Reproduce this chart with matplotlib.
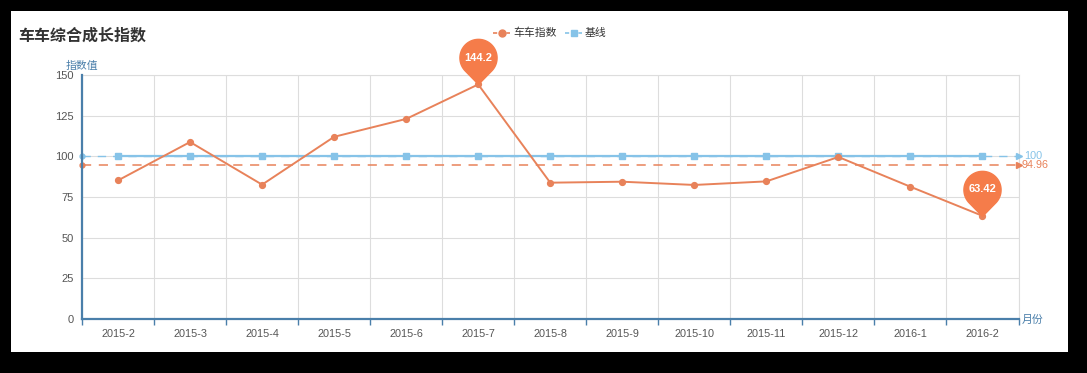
import numpy as np
import matplotlib
matplotlib.use("Agg")
import matplotlib.pyplot as plt
from matplotlib.patches import Rectangle
from matplotlib.path import Path
from matplotlib.lines import Line2D

plt.rcParams['font.family'] = ['Liberation Sans', 'Noto Sans CJK SC', 'DejaVu Sans']

# ---------------- data ----------------
months = ['2015-2', '2015-3', '2015-4', '2015-5', '2015-6', '2015-7', '2015-8',
          '2015-9', '2015-10', '2015-11', '2015-12', '2016-1', '2016-2']
index_values = [85.2, 108.8, 82.6, 112.0, 123.0, 144.2, 83.8,
                84.4, 82.4, 84.6, 99.6, 81.3, 63.42]
baseline_values = [100, 100, 100, 100, 100, 100, 100, 100, 100, 100, 100, 100, 100]
average_value = 94.96
baseline_mark = 100
y_ticks = [0, 25, 50, 75, 100, 125, 150]

title = '车车综合成长指数'
legend_names = ['车车指数', '基线']
y_name = '指数值'
x_name = '月份'

# ---------------- style ----------------
W, H = 1087, 373
ORANGE = '#E8825A'
PIN = '#F57C4A'
BLUE = '#86C3E8'
AXIS = '#4A7FAA'
GRID = '#DDDDDD'
TXT = '#555555'

def fx(px):
    return px / W

def fy(py):
    return 1 - py / H

fig = plt.figure(figsize=(W / 100, H / 100), dpi=100, facecolor='black')
fig.patches.append(Rectangle((fx(11), fy(352)), (1068 - 11) / W, (352 - 11) / H,
                             transform=fig.transFigure, facecolor='white',
                             edgecolor='none', zorder=-10))

ax = fig.add_axes([fx(82), fy(319), 936.5 / W, (319 - 75) / H])
ax.set_facecolor('white')
n = len(months)
x = np.arange(n)
ax.set_xlim(-0.5, n - 0.5)
ax.set_ylim(0, 150)

# grid
bounds = np.arange(-0.5, n, 1.0)
ax.set_xticks(bounds)
ax.set_xticklabels([])
ax.set_xticks(x, minor=True)
ax.set_xticklabels(months, minor=True)
ax.tick_params(axis='x', which='major', direction='out', length=4, width=1, color=AXIS)
ax.tick_params(axis='x', which='minor', length=0, pad=7, labelsize=7.8, labelcolor=TXT)
ax.set_yticks(y_ticks)
ax.tick_params(axis='y', length=0, pad=6, labelsize=8, labelcolor=TXT)
ax.grid(True, which='major', color=GRID, linewidth=0.8, zorder=0)
ax.set_axisbelow(True)

for s in ['top', 'right']:
    ax.spines[s].set_color(GRID)
    ax.spines[s].set_linewidth(0.8)
for s in ['left', 'bottom']:
    ax.spines[s].set_color(AXIS)
    ax.spines[s].set_linewidth(1.6)
    ax.spines[s].set_zorder(5)

# baseline series
ax.plot(x, baseline_values, color=BLUE, lw=1.6, marker='s', ms=4.2,
        mfc=BLUE, mec=BLUE, zorder=3)
# baseline markline
ax.plot([-0.5, n - 0.5], [baseline_mark, baseline_mark], color=BLUE, lw=1.0,
        ls=(0, (6, 5)), zorder=2.5, clip_on=False)
ax.plot([-0.5], [baseline_mark], marker='o', ms=3.5, color=BLUE, clip_on=False, zorder=4)
ax.plot([n - 0.5], [baseline_mark], marker='>', ms=4.8, color=BLUE, clip_on=False, zorder=4)
ax.annotate(f'{baseline_mark}', (n - 0.5, baseline_mark), xytext=(4, 0),
            textcoords='offset points', va='center', ha='left', fontsize=7.8,
            color=BLUE, annotation_clip=False)

# average markline
ax.plot([-0.5, n - 0.5], [average_value, average_value], color=ORANGE, lw=1.1,
        ls=(0, (6, 5)), zorder=2.6, clip_on=False)
ax.plot([-0.5], [average_value], marker='o', ms=3.5, color=ORANGE, clip_on=False, zorder=4)
ax.plot([n - 0.5], [average_value], marker='>', ms=4.8, color=ORANGE, clip_on=False, zorder=4)
ax.annotate(f'{average_value}', (n - 0.5, average_value), xytext=(2.5, 0),
            textcoords='offset points', va='center', ha='left', fontsize=7.8,
            color=ORANGE, annotation_clip=False)

# index series
ax.plot(x, index_values, color=ORANGE, lw=1.4, marker='o', ms=4.2,
        mfc=ORANGE, mec=ORANGE, zorder=4)

# pin markers (max / min)
c = 1.43
phi = np.arccos(1 / c)
th = np.linspace(-np.pi / 2 + phi, 3 * np.pi / 2 - phi, 80)
verts = np.column_stack([np.cos(th), c + np.sin(th)])
verts = np.vstack([[0, 0], verts, [0, 0]])
codes = [Path.MOVETO] + [Path.LINETO] * (len(verts) - 2) + [Path.CLOSEPOLY]
pin = Path(verts, codes)
i_max = int(np.argmax(index_values))
i_min = int(np.argmin(index_values))
for i in [i_max, i_min]:
    ax.plot([x[i]], [index_values[i]], marker=pin, ms=65, color=PIN, mec=PIN,
            zorder=6, clip_on=False, ls='none')
    ax.annotate(f'{index_values[i]}', (x[i], index_values[i]), xytext=(0, 19),
                textcoords='offset points', ha='center', va='center', fontsize=8,
                color='white', fontweight='bold', zorder=7, annotation_clip=False)

# texts
fig.text(fx(18), fy(36), title, fontsize=11.5, fontweight='bold', color='#333333',
         va='center', ha='left', family=['Noto Sans CJK SC', 'DejaVu Sans'])
fig.text(fx(66), fy(66), y_name, fontsize=7.8, color=AXIS, va='center', ha='left',
         family=['Noto Sans CJK SC', 'DejaVu Sans'])
fig.text(fx(1022), fy(320), x_name, fontsize=7.8, color=AXIS, va='center', ha='left',
         family=['Noto Sans CJK SC', 'DejaVu Sans'])

# legend
ly = fy(33)
fig.add_artist(Line2D([fx(493), fx(510)], [ly, ly], color=ORANGE, lw=1.2,
                      ls=(0, (2.5, 1.5)), transform=fig.transFigure))
fig.add_artist(Line2D([fx(501.5)], [ly], marker='o', ms=5, color=ORANGE,
                      transform=fig.transFigure))
fig.text(fx(513), ly, legend_names[0], fontsize=7.8, color='#333333', va='center',
         ha='left', family=['Noto Sans CJK SC', 'DejaVu Sans'])
fig.add_artist(Line2D([fx(565), fx(582)], [ly, ly], color=BLUE, lw=1.2,
                      ls=(0, (2.5, 1.5)), transform=fig.transFigure))
fig.add_artist(Line2D([fx(573.5)], [ly], marker='s', ms=4.5, color=BLUE,
                      transform=fig.transFigure))
fig.text(fx(585), ly, legend_names[1], fontsize=7.8, color='#333333', va='center',
         ha='left', family=['Noto Sans CJK SC', 'DejaVu Sans'])

fig.savefig('out.png', dpi=100, facecolor='black')
